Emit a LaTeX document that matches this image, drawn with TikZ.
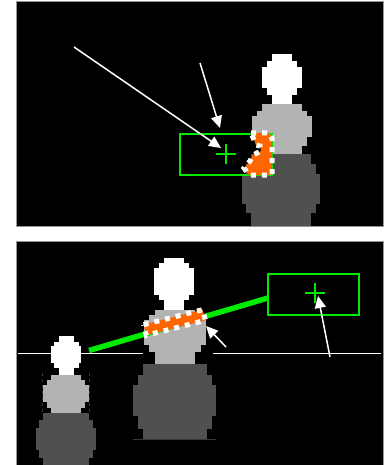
\documentclass[tikz,border=0pt]{standalone}
\usetikzlibrary{arrows.meta,calc}
\definecolor{lightbody}{RGB}{179,179,179}
\definecolor{darkbody}{RGB}{80,80,80}
\definecolor{marker}{RGB}{0,235,0}
\definecolor{patch}{RGB}{255,102,0}
\definecolor{frame}{RGB}{150,150,150}
\definecolor{ghost}{RGB}{55,55,55}
\tikzset{
  panel/.style={fill=black,draw=frame,line width=0.8pt},
  headpart/.style={fill=white},
  bodypart/.style={fill=lightbody},
  basepart/.style={fill=darkbody},
  roi/.style={draw=marker,line width=2pt},
  crosshair/.style={draw=marker,line width=2pt},
  pointer/.style={draw=white,line width=1.5pt,-{Triangle[length=12pt,width=11pt]}},
  patchfill/.style={fill=patch},
  patchedge/.style={draw=white,line width=5pt,dash pattern=on 5pt off 6pt},
  horizon/.style={draw=white,line width=1pt},
  beam/.style={draw=marker,line width=5.5pt},
  ghostline/.style={draw=ghost,line width=0.7pt},
}
\begin{document}
\begin{tikzpicture}[x=1pt,y=-1pt]
\useasboundingbox[fill=white] (0,0) rectangle (386,465);
\clip (0,0) rectangle (386,465);

% ---------------- upper view ----------------
\path[panel] (16,1) rectangle (383,226);

% figure: head, torso, base
\fill[headpart] (272,54) rectangle (292,104);
\fill[headpart] (267,61) rectangle (297,95);
\fill[headpart] (262,67) rectangle (302,88);
\fill[bodypart] (262,104) rectangle (302,154);
\fill[bodypart] (257,111) rectangle (307,146);
\fill[bodypart] (252,116) rectangle (312,137);
\fill[basepart] (251,154) rectangle (311,226);
\fill[basepart] (246,164) rectangle (316,213);
\fill[basepart] (242,174) rectangle (320,204);

% search window and its centre
\draw[roi] (180,134) rectangle (272,175);
\coordinate (c1) at (226,154);
\draw[crosshair] ($(c1)+(-10,0)$) -- ($(c1)+(10,0)$);
\draw[crosshair] ($(c1)+(0,-10)$) -- ($(c1)+(0,10)$);

% matched patch
\path[patchfill] (251,133) -- (269,133) -- (272,138) -- (272,175) -- (249,175)
  -- (244,168) -- (250,161) -- (253,155) -- (261,151) -- (260,146) -- (256,145)
  -- (254,140) -- cycle;
\draw[patchedge] (251,133) -- (269,133) -- (272,138) -- (272,175) -- (249,175)
  -- (244,168) -- (250,161) -- (253,155) -- (261,151) -- (260,146) -- (256,145)
  -- (254,140) -- cycle;

% pointers
\coordinate (t1) at (74,47);   \coordinate (h1) at (221,148);
\coordinate (t2) at (200,63);  \coordinate (h2) at (220,128);
\draw[pointer] (t1) -- (h1);
\draw[pointer] (t2) -- (h2);

% ---------------- lower view ----------------
\path[panel] (16,241) rectangle (383,470);

% horizon line, hidden behind the near figure
\draw[horizon] (18,353) -- (143,353);
\draw[horizon] (213,353) -- (381,353);

% distant figure
\fill[headpart] (58.5,336) rectangle (73.5,375);
\fill[headpart] (53.5,342) rectangle (78.5,368);
\fill[headpart] (51,346) rectangle (81,363);
\fill[bodypart] (51,375) rectangle (81,413);
\fill[bodypart] (47,380) rectangle (85,408);
\fill[bodypart] (43,385) rectangle (89,402);
\fill[basepart] (43,413) rectangle (89,470);
\fill[basepart] (39,420) rectangle (93,458);
\fill[basepart] (36,428) rectangle (96,450);
\draw[ghostline,dashed] (42,373) -- (42,413);
\draw[ghostline,dashed] (89,373) -- (89,413);

% near figure
\fill[headpart] (164,258) rectangle (184,310);
\fill[headpart] (159,263) rectangle (189,300);
\fill[headpart] (154,268) rectangle (194,295);
\fill[bodypart] (155,310) rectangle (195,364);
\fill[bodypart] (149,315) rectangle (201,352);
\fill[bodypart] (144,320) rectangle (206,345);
\fill[basepart] (143,364) rectangle (207,439);
\fill[basepart] (138,375) rectangle (212,429);
\fill[basepart] (133,385) rectangle (216,416);
\draw[ghostline] (133,439.5) -- (216,439.5);

% search window, its centre and the epipolar segment
\coordinate (b0) at (89,350.5);
\coordinate (b1) at (268,298);
\draw[beam] (b0) -- (b1);
\draw[roi] (268,274) rectangle (359,315);
\coordinate (c2) at (315,293);
\draw[crosshair] ($(c2)+(-10,0)$) -- ($(c2)+(10,0)$);
\draw[crosshair] ($(c2)+(0,-10)$) -- ($(c2)+(0,10)$);

% matched patch along the segment
\coordinate (pa) at (145,330);
\coordinate (pb) at (204,315);
\path[patchfill] ($(pa)!5.5pt!90:(pb)$) -- ($(pb)!5.5pt!-90:(pa)$)
  -- ($(pb)!5.5pt!90:(pa)$) -- ($(pa)!5.5pt!-90:(pb)$) -- cycle;
\draw[patchedge] ($(pa)!5.5pt!90:(pb)$) -- ($(pb)!5.5pt!-90:(pa)$)
  -- ($(pb)!5.5pt!90:(pa)$) -- ($(pa)!5.5pt!-90:(pb)$) -- cycle;

% pointers
\coordinate (t3) at (226,347); \coordinate (h3) at (206,326);
\coordinate (t4) at (330,357); \coordinate (h4) at (318,296);
\draw[pointer] (t3) -- (h3);
\draw[pointer] (t4) -- (h4);
\end{tikzpicture}
\end{document}
